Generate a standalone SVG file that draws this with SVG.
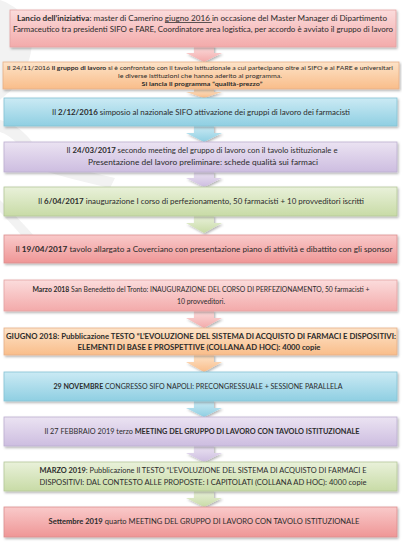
<svg xmlns="http://www.w3.org/2000/svg" width="402" height="544" viewBox="0 0 402 544">
<defs>
<style>
text{font-family:Lato,"Open Sans","Liberation Sans",sans-serif;fill:#2b2b2b;text-anchor:middle}
.b{font-weight:bold}
.box{stroke-width:0.8}
.t8{font-size:7.6px}
.t6{font-size:6.2px}
.t7{font-size:7.1px}
</style>
<filter id="sh" x="-5%" y="-20%" width="110%" height="150%">
<feDropShadow dx="1.2" dy="1.5" stdDeviation="1" flood-color="#000" flood-opacity="0.3"/>
</filter>
<linearGradient id="gPink" x1="0" y1="0" x2="0" y2="1"><stop offset="0" stop-color="#fbdcdc"/><stop offset="1" stop-color="#f3aaaa"/></linearGradient>
<linearGradient id="gRed" x1="0" y1="0" x2="0" y2="1"><stop offset="0" stop-color="#f9caca"/><stop offset="1" stop-color="#ef9696"/></linearGradient>
<linearGradient id="gOr" x1="0" y1="0" x2="0" y2="1"><stop offset="0" stop-color="#fde3c8"/><stop offset="1" stop-color="#f9bd8a"/></linearGradient>
<linearGradient id="gBl" x1="0" y1="0" x2="0" y2="1"><stop offset="0" stop-color="#cbeaf4"/><stop offset="1" stop-color="#8fcfe2"/></linearGradient>
<linearGradient id="gPu" x1="0" y1="0" x2="0" y2="1"><stop offset="0" stop-color="#ebe3f2"/><stop offset="1" stop-color="#cdbde0"/></linearGradient>
<linearGradient id="gGr" x1="0" y1="0" x2="0" y2="1"><stop offset="0" stop-color="#e9f1da"/><stop offset="1" stop-color="#c8dba6"/></linearGradient>
</defs>
<rect width="402" height="544" fill="#ffffff"/>
<g id="watermark" fill="#f2f2f2">
<path d="M0,0 C30,10 40,40 25,70 C15,90 5,95 0,100 Z"/>
<path d="M20,150 C50,160 80,170 115,178 L110,188 C75,180 45,172 15,162 Z"/>
<path d="M0,120 C20,125 35,140 40,160 L30,165 C25,148 12,136 0,132 Z"/>
<path d="M0,200 C15,215 30,230 45,250 L38,256 C24,238 12,224 0,212 Z"/>
</g>
<g id="connectors" filter="url(#sh)">
<path d="M194,46 H214 V53 H222 L204,62 L186,53 H194 Z" fill="url(#gPink)"/>
<path d="M194,89 H214 V92 H222 L204,98 L186,92 H194 Z" fill="url(#gOr)"/>
<path d="M194,126 H214 V133 H222 L204,142 L186,133 H194 Z" fill="url(#gBl)"/>
<path d="M194,172 H214 V178 H222 L204,187 L186,178 H194 Z" fill="url(#gPu)"/>
<path d="M194,216 H214 V223 H222 L204,233 L186,223 H194 Z" fill="url(#gGr)"/>
<path d="M194,311 H214 V318 H222 L204,328 L186,318 H194 Z" fill="url(#gPink)"/>
<path d="M194,355 H214 V362 H222 L204,372 L186,362 H194 Z" fill="url(#gOr)"/>
<path d="M194,401 H214 V408 H222 L204,417 L186,408 H194 Z" fill="url(#gBl)"/>
<path d="M194,446 H214 V453 H222 L204,462 L186,453 H194 Z" fill="url(#gPu)"/>
<path d="M194,491 H214 V498 H222 L204,507 L186,498 H194 Z" fill="url(#gGr)"/>
</g>
<g id="n1">
<rect class="box" x="10" y="10" width="386" height="37" fill="url(#gPink)" stroke="#e3a3a3" filter="url(#sh)"/>
<text class="t8" x="202" y="21" textLength="370" lengthAdjust="spacingAndGlyphs"><tspan class="b">Lancio dell’iniziativa</tspan>: master  di Camerino <tspan text-decoration="underline">giugno 2016 </tspan>in occasione del Master Manager di Dipartimento</text>
<text class="t8" x="203" y="32" textLength="380" lengthAdjust="spacingAndGlyphs">Farmaceutico tra presidenti SIFO e FARE, Coordinatore area logistica, per accordo è avviato il gruppo di lavoro</text>
</g>
<g id="n2">
<rect class="box" x="3" y="62" width="396" height="27" fill="url(#gOr)" stroke="#e6b088" filter="url(#sh)"/>
<text class="t6" x="200" y="69.5" textLength="386" lengthAdjust="spacingAndGlyphs">Il 24/11/2016 <tspan class="b">il gruppo di lavoro</tspan> si è confrontato con il tavolo istituzionale a cui partecipano oltre ai SIFO e ai FARE e universitari</text>
<text class="t6" x="200" y="77.5" textLength="164" lengthAdjust="spacingAndGlyphs">le diverse istituzioni che hanno aderito al programma.</text>
<text class="t6 b" x="202" y="86" textLength="121" lengthAdjust="spacingAndGlyphs">Si lancia il programma  “qualità-prezzo”</text>
</g>
<g id="n3">
<rect class="box" x="4" y="98" width="393" height="28" fill="url(#gBl)" stroke="#85c2d4" filter="url(#sh)"/>
<text class="t7" x="201" y="114.5" textLength="298" lengthAdjust="spacingAndGlyphs">Il <tspan class="b">2/12/2016</tspan>  simposio al nazionale SIFO attivazione dei gruppi di lavoro dei farmacisti</text>
</g>
<g id="n4">
<rect class="box" x="4" y="142" width="393" height="30" fill="url(#gPu)" stroke="#bcaed0" filter="url(#sh)"/>
<text class="t7" x="202" y="153" textLength="271" lengthAdjust="spacingAndGlyphs">Il <tspan class="b">24/03/2017</tspan>  secondo meeting del gruppo di lavoro con il tavolo istituzionale e</text>
<text class="t7" x="203" y="164.5" textLength="230" lengthAdjust="spacingAndGlyphs">Presentazione del lavoro preliminare: schede qualità sui farmaci</text>
</g>
<g id="n5">
<rect class="box" x="4" y="187" width="393" height="29" fill="url(#gGr)" stroke="#b5c79a" filter="url(#sh)"/>
<text class="t7" x="201" y="204" textLength="326" lengthAdjust="spacingAndGlyphs">Il <tspan class="b">6/04/2017</tspan>  inaugurazione I corso di perfezionamento, 50 farmacisti + 10 provveditori iscritti</text>
</g>
<g id="n6">
<rect class="box" x="4" y="235" width="393" height="28" fill="url(#gRed)" stroke="#dc8f8f" filter="url(#sh)"/>
<text class="t7" x="204" y="251.5" textLength="377" lengthAdjust="spacingAndGlyphs">Il <tspan class="b">19/04/2017</tspan>  tavolo allargato a Coverciano con presentazione piano di attività e dibattito con gli sponsor</text>
</g>
<g id="n7">
<rect class="box" x="4" y="280" width="393" height="31" fill="url(#gPink)" stroke="#e3a3a3" filter="url(#sh)"/>
<text class="t7" x="201" y="292" textLength="337" lengthAdjust="spacingAndGlyphs"><tspan class="b">Marzo 2018</tspan> San Benedetto del Tronto: INAUGURAZIONE DEL CORSO DI PERFEZIONAMENTO,  50 farmacisti +</text>
<text class="t7" x="201" y="303.5" textLength="48" lengthAdjust="spacingAndGlyphs">10 provveditori.</text>
</g>
<g id="n8">
<rect class="box" x="4" y="328" width="393" height="27" fill="url(#gOr)" stroke="#e6b088" filter="url(#sh)"/>
<text class="t7 b" x="201" y="339" textLength="390" lengthAdjust="spacingAndGlyphs">GIUGNO 2018: Pubblicazione TESTO “L’EVOLUZIONE DEL SISTEMA DI ACQUISTO DI FARMACI E DISPOSITIVI:</text>
<text class="t7 b" x="199" y="350" textLength="243" lengthAdjust="spacingAndGlyphs">ELEMENTI DI BASE E PROSPETTIVE (COLLANA AD HOC): 4000 copie</text>
</g>
<g id="n9">
<rect class="box" x="4" y="372" width="393" height="29" fill="url(#gBl)" stroke="#85c2d4" filter="url(#sh)"/>
<text class="t7" x="198" y="389" textLength="289" lengthAdjust="spacingAndGlyphs"><tspan class="b">29 NOVEMBRE</tspan> CONGRESSO SIFO NAPOLI: PRECONGRESSUALE + SESSIONE PARALLELA</text>
</g>
<g id="n10">
<rect class="box" x="4" y="417" width="393" height="29" fill="url(#gPu)" stroke="#bcaed0" filter="url(#sh)"/>
<text class="t7" x="202" y="434" textLength="315" lengthAdjust="spacingAndGlyphs">Il 27 FEBBRAIO 2019 terzo <tspan class="b">MEETING DEL GRUPPO DI LAVORO CON TAVOLO ISTITUZIONALE</tspan></text>
</g>
<g id="n11">
<rect class="box" x="4" y="462" width="393" height="29" fill="url(#gGr)" stroke="#b5c79a" filter="url(#sh)"/>
<text class="t7" x="203" y="473" textLength="327" lengthAdjust="spacingAndGlyphs"><tspan class="b">MARZO 2019</tspan>: Pubblicazione Il TESTO “L’EVOLUZIONE DEL SISTEMA DI ACQUISTO DI FARMACI E</text>
<text class="t7" x="203" y="485" textLength="327" lengthAdjust="spacingAndGlyphs">DISPOSITIVI: DAL CONTESTO ALLE PROPOSTE: I CAPITOLATI (COLLANA AD HOC): 4000 copie</text>
</g>
<g id="n12">
<rect class="box" x="4" y="507" width="393" height="30" fill="url(#gRed)" stroke="#dc8f8f" filter="url(#sh)"/>
<text class="t7" x="204" y="524" textLength="311" lengthAdjust="spacingAndGlyphs"><tspan class="b">Settembre 2019</tspan> quarto MEETING DEL GRUPPO DI LAVORO CON TAVOLO ISTITUZIONALE</text>
</g>
</svg>
